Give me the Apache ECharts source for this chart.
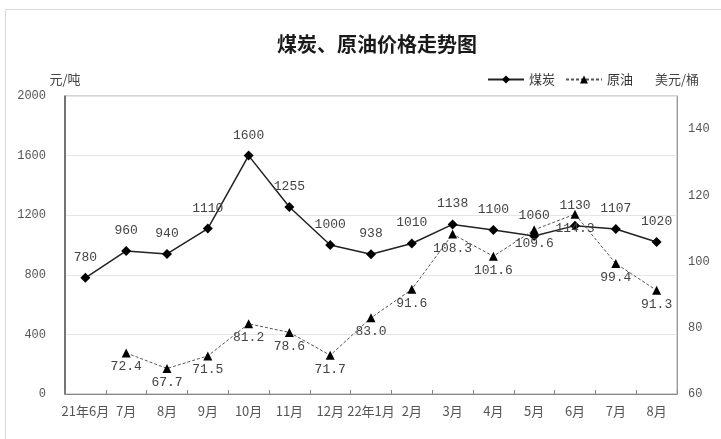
<!DOCTYPE html>
<html><head><meta charset="utf-8">
<script src="https://cdn.jsdelivr.net/npm/echarts@6/dist/echarts.min.js"></script>
<style>html,body{margin:0;padding:0;background:#fff}#c{width:721px;height:439px}</style>
</head><body><div id="c"></div>
<script>
const categories = ['21年6月','7月','8月','9月','10月','11月','12月','22年1月','2月','3月','4月','5月','6月','7月','8月'];
const coal = [780, 960, 940, 1110, 1600, 1255, 1000, 938, 1010, 1138, 1100, 1060, 1130, 1107, 1020];
const oil = [null, 72.4, 67.7, 71.5, 81.2, 78.6, 71.7, 83.0, 91.6, 108.3, 101.6, 109.6, 114.3, 99.4, 91.3];
const leftTicks = {min: 0, max: 2000, interval: 400};
const rightTicks = {min: 60, max: 150, interval: 20, lastLabel: 140};

const chart = echarts.init(document.getElementById('c'), null, {renderer: 'canvas'});
const numFont = '"Liberation Mono", "DejaVu Sans Mono", monospace';
const cjkFont = '"Noto Sans CJK SC", "Liberation Mono", sans-serif';
chart.setOption({
  animation: false,
  backgroundColor: '#fff',
  graphic: [{
    type: 'rect', shape: {x: 5.5, y: 9.5, width: 800, height: 500},
    style: {fill: 'none', stroke: '#d9d9d9', lineWidth: 1}, silent: true
  }],
  title: {
    text: '煤炭、原油价格走势图', left: 272, top: 29,
    textStyle: {fontFamily: '"Noto Sans CJK SC"', fontSize: 20, fontWeight: 'bold', color: '#1a1a1a'}
  },
  legend: {
    right: 83, top: 68, itemWidth: 36, itemHeight: 10, itemGap: 10,
    textStyle: {fontFamily: cjkFont, fontSize: 13, color: '#333'},
    data: ['煤炭', '原油']
  },
  grid: {left: 65, right: 44, top: 96, bottom: 45, show: true, borderColor: '#aaa', borderWidth: 1},
  xAxis: {
    type: 'category', data: categories, boundaryGap: true,
    axisLine: {lineStyle: {color: '#888', width: 1}},
    axisTick: {show: true, inside: true, length: 4, lineStyle: {color: '#888'}},
    axisLabel: {interval: 0, margin: 11, color: '#555', fontFamily: cjkFont, fontSize: 13}
  },
  yAxis: [{
    type: 'value', min: leftTicks.min, max: leftTicks.max, interval: leftTicks.interval,
    name: '元/吨', nameLocation: 'end', nameGap: 10,
    nameTextStyle: {fontFamily: cjkFont, fontSize: 13, color: '#444', align: 'center'},
    axisLine: {show: true, lineStyle: {color: '#555', width: 1.5}},
    axisTick: {show: false},
    axisLabel: {margin: 19, color: '#555', fontFamily: numFont, fontSize: 12, formatter: v => String(v)},
    splitLine: {show: true, lineStyle: {color: '#e6e6e6', width: 1}}
  }, {
    type: 'value', min: rightTicks.min, max: rightTicks.max, interval: rightTicks.interval,
    name: '美元/桶', nameLocation: 'end', nameGap: 10,
    nameTextStyle: {fontFamily: cjkFont, fontSize: 13, color: '#444', align: 'center'},
    axisLine: {show: true, lineStyle: {color: '#999', width: 1}},
    axisTick: {show: false},
    axisLabel: {margin: 11, color: '#555', fontFamily: numFont, fontSize: 12,
      formatter: v => (v > rightTicks.lastLabel ? '' : String(v))},
    splitLine: {show: false}
  }],
  series: [{
    name: '煤炭', type: 'line', data: coal, yAxisIndex: 0,
    symbol: 'diamond', symbolSize: 10,
    itemStyle: {color: '#000'},
    lineStyle: {color: '#222', width: 1.5, type: 'solid'},
    label: {show: true, position: 'top', distance: 9, color: '#444', fontFamily: numFont, fontSize: 13}
  }, {
    name: '原油', type: 'line', data: oil, yAxisIndex: 1,
    symbol: 'triangle', symbolSize: 9,
    itemStyle: {color: '#000'},
    lineStyle: {color: '#555', width: 1, type: [3, 2]},
    label: {show: true, position: 'bottom', distance: 3, color: '#444', fontFamily: numFont, fontSize: 13,
      formatter: p => p.value.toFixed(1)}
  }]
});
</script></body></html>
